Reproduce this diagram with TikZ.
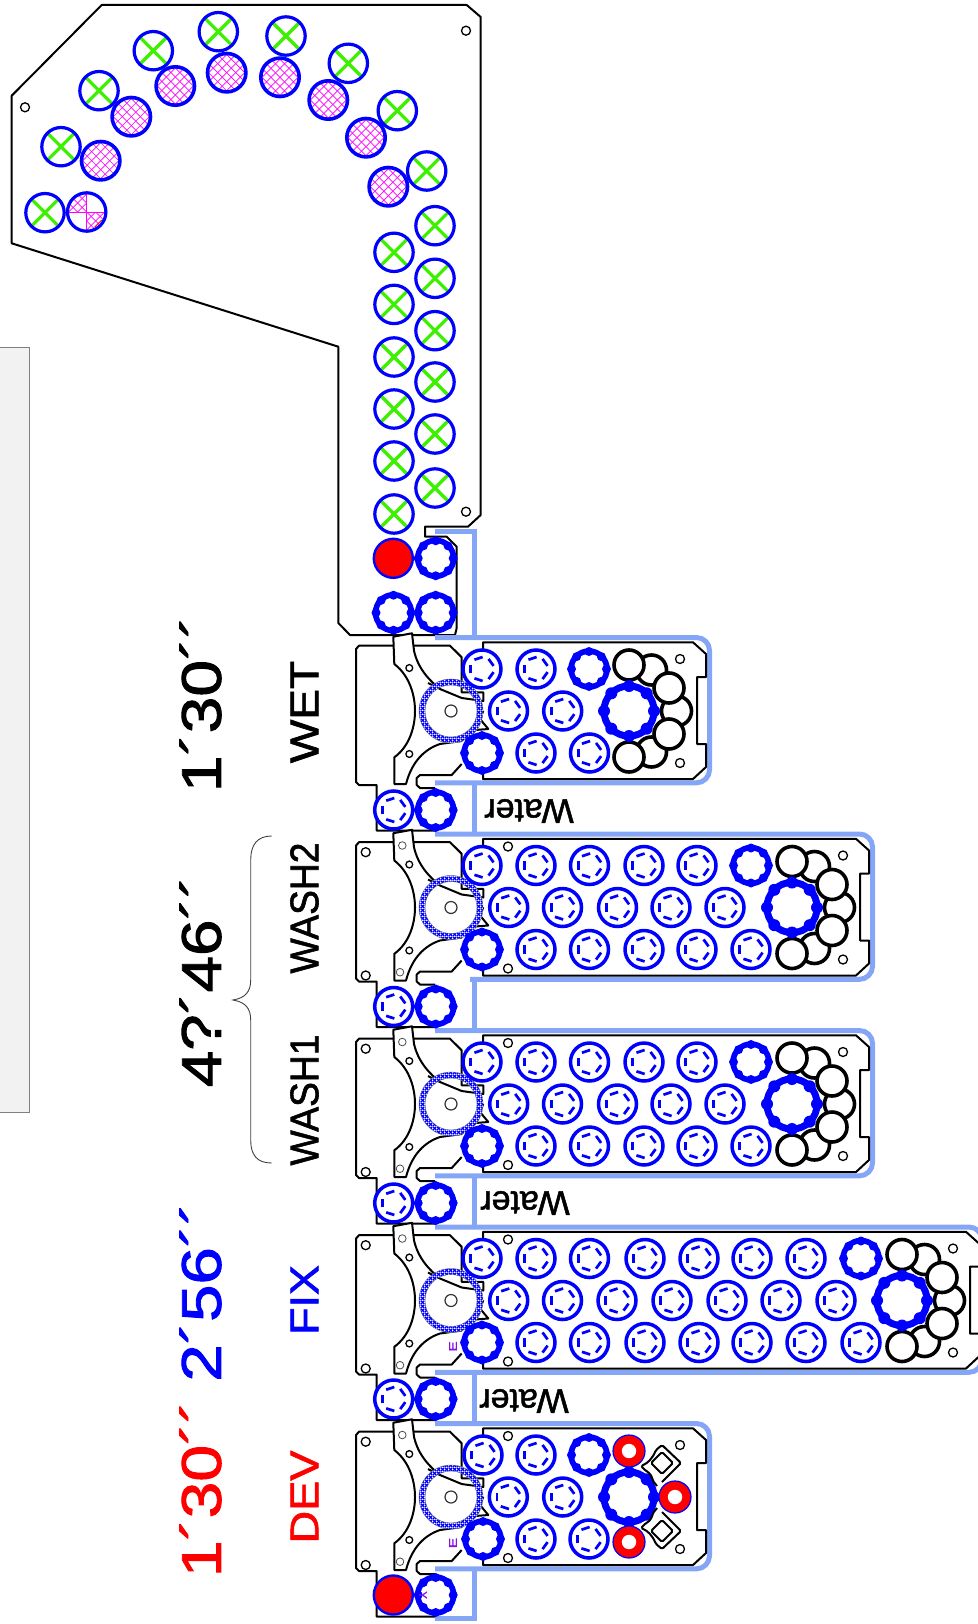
\documentclass[tikz,border=0pt]{standalone}
\usepackage{fontspec}
\setmainfont{Liberation Sans}
\newfontfamily\heavyfont[FakeBold=1.5]{Liberation Sans}
\usepackage{tikz}
\usetikzlibrary{patterns}
\definecolor{trackblue}{HTML}{85A6F7}
\definecolor{xgreen}{HTML}{3CF000}
\definecolor{markpurple}{HTML}{8A10E0}
\definecolor{sidegray}{HTML}{F2F2F2}
\definecolor{hatchpink}{HTML}{FF00FF}

\pgfdeclarepatternformonly{ringhatch}{\pgfpointorigin}{\pgfqpoint{3.6pt}{3.6pt}}{\pgfqpoint{3.6pt}{3.6pt}}{
	\pgfsetlinewidth{1.25pt}
	\pgfpathmoveto{\pgfqpoint{-0.1pt}{-0.1pt}}
	\pgfpathlineto{\pgfqpoint{3.7pt}{3.7pt}}
	\pgfpathmoveto{\pgfqpoint{-0.1pt}{3.7pt}}
	\pgfpathlineto{\pgfqpoint{3.7pt}{-0.1pt}}
	\pgfusepath{stroke}
}

\tikzset{
	boardline/.style={draw=black, line width=2pt, line join=round},
	trackline/.style={draw=trackblue, line width=5pt},
	smallhole/.style={draw=black, fill=white, line width=1.3pt},
	greyhole/.style={draw=black!70, fill=white, line width=0.8pt},
	stagelabel/.style={rotate=90, font=\heavyfont\fontsize{40}{42}\selectfont},
	timelabel/.style={rotate=90, font=\heavyfont\fontsize{56}{58}\selectfont},
	waterlabel/.style={rotate=180, font=\heavyfont\fontsize{34}{36}\selectfont},
	pics/gearwheel/.style={code={
		\fill[blue] (0,0) circle (20.8);
		\fill[white] (0,0) circle (15);
		\foreach \a in {0,45,...,315} \fill[blue] (\a:17.5) circle (4.5);
	}},
	pics/biggear/.style={code={
		\fill[blue] (0,0) circle (28.6);
		\fill[white] (0,0) circle (21.5);
		\foreach \a in {0,45,...,315} \fill[blue] (\a:25) circle (6);
	}},
	pics/dashwheel/.style={code={
		\draw[blue, fill=white, line width=3.5pt] (0,0) circle (19);
		\foreach \a in {36,108,180,252,324} \draw[blue, line width=2.7pt] (\a-21:12) -- (\a+21:12);
	}},
	pics/crosswheel/.style={code={
		\fill[white] (0,0) circle (19);
		\draw[xgreen, line width=3.2pt] (45:19) -- (225:19);
		\draw[xgreen, line width=3.2pt] (135:19) -- (315:19);
		\draw[blue, line width=3.2pt] (0,0) circle (19.2);
	}},
	pics/hatchwheel/.style={code={
		\begin{scope}
			\clip (0,0) circle (19);
			\fill[white] (0,0) circle (19);
			\foreach \d in {-36,-27,...,36} {
				\draw[hatchpink, line width=0.7pt] (\d-20,-20) -- (\d+20,20);
				\draw[hatchpink, line width=0.7pt] (\d-20,20) -- (\d+20,-20);
			}
		\end{scope}
		\draw[blue, line width=3.6pt] (0,0) circle (19.2);
	}},
	pics/halfwheel/.style={code={
		\fill[white] (0,0) circle (19);
		\begin{scope}
			\clip (-19,0) rectangle (0,-19) (0,0) rectangle (19,19);
			\clip (0,0) circle (19);
			\foreach \d in {-36,-27,...,36} {
				\draw[hatchpink, line width=0.7pt] (\d-20,-20) -- (\d+20,20);
				\draw[hatchpink, line width=0.7pt] (\d-20,20) -- (\d+20,-20);
			}
		\end{scope}
		\draw[hatchpink, line width=0.8pt] (-19,0) -- (19,0);
		\draw[hatchpink, line width=0.8pt] (0,-19) -- (0,19);
		\draw[blue, line width=3.2pt] (0,0) circle (19.2);
		\draw[red, line width=0.8pt] (8,15) -- (15,8);
	}},
	pics/redwheel/.style={code={
		\draw[blue, fill=red, line width=2.4pt] (0,0) circle (19.5);
	}},
	pics/redring/.style={code={
		\draw[blue, fill=red, line width=1.2pt] (0,0) circle (16);
		\fill[white] (0,0) circle (7.2);
	}},
	pics/tailwheel/.style={code={
		\draw[black, fill=white, line width=3.6pt] (0,0) circle (15);
	}},
}

% Head with ring and crossover arm, drawn around its ring centre
\newcommand{\headunit}[1]{
	\begin{scope}[shift={(0,#1)}]
		\draw[boardline] (461.7,-20) -- (461.7,-53.7) -- (450,-65.3) -- (359,-65.3) -- (356,-62) -- (356,71) -- (359,74) -- (376.7,74) -- (376.7,119.5) -- (435,119.5);
		\draw[boardline] (461.7,53) -- (451.7,64) -- (420,64) -- (416.7,67) -- (416.7,74) -- (420,77) -- (435,77);
		\draw[boardline, fill=white] (393.3,-74.3) -- (412,-77.7) -- (414,-60.3) .. controls (418,-42) and (430,-30) .. (440,-22) -- (461.7,-13) -- (461.7,30) -- (440,33) .. controls (425,38) and (412,50) .. (406,73) -- (394.3,73) -- (394.3,46.3) .. controls (410,35) and (415,15) .. (415,0) .. controls (415,-15) and (410,-35) .. (394.3,-47) -- cycle;
		\fill[white] (451,0) circle (28);
		\draw[boardline] (428,-28) -- (440,-22) -- (461.7,-13) -- (483.3,-10) -- (483.3,-18.7) -- (461.7,-18.7) -- (461.7,-28);
		\draw[boardline] (483.3,-0.3) -- (480,8) -- (488.3,18) -- (475,19);
		\fill[white, even odd rule] (451,0) circle (32) (451,0) circle (26);
		\draw[draw=black!60, pattern=ringhatch, pattern color=blue, even odd rule, line width=0.4pt] (451,0) circle (32) (451,0) circle (26);
		\draw[draw=black!80, fill=white, line width=1.2pt] (451,0) circle (6);
		\draw[smallhole] (409.3,-43) circle (3.4);
		\draw[smallhole] (409.3,43) circle (3.4);
	\end{scope}
}
% Holes that all the heads have but the last one
\newcommand{\headholes}[1]{
	\begin{scope}[shift={(0,#1)}]
		\draw[smallhole] (365.7,-55.3) circle (4.5);
		\draw[smallhole] (365.7,68) circle (4.5);
		\draw[greyhole] (402.3,-62) circle (3.8);
		\draw[greyhole] (400,64.7) circle (3.8);
	\end{scope}
}
% Rack plate: centre height, right edge
\newcommand{\rackboard}[2]{
	\begin{scope}[shift={(0,#1)}]
		\draw[boardline] (483,-62) -- (483,-68.7) -- (#2-13,-68.7) -- (#2,-57) -- (#2,-34) -- (#2-9,-34) -- (#2-9,33) -- (#2,33) -- (#2,56) -- (#2-13,68) -- (483,68) -- (483,62);
		\draw[smallhole] (#2-26,-52) circle (4.5);
		\draw[smallhole] (#2-26,52) circle (4.5);
	\end{scope}
}
% Rubber rollers round the big gear
\newcommand{\tailset}[2]{
	\begin{scope}[shift={(#1,#2)}]
		\pic at (22.5,-41) {tailwheel};
		\pic at (47.5,0) {tailwheel};
		\pic at (22.5,41) {tailwheel};
		\pic at (40,-23) {tailwheel};
		\pic at (40,23) {tailwheel};
		\pic at (0,-46) {tailwheel};
		\pic at (0,46) {tailwheel};
		\pic at (0,0) {biggear};
	\end{scope}
}

\begin{document}
\begin{tikzpicture}[x=1pt, y=-1pt]
	% Side panel
	\draw[draw=black!50, fill=sidegray, line width=0.6pt] (-2,347.3) rectangle (29.3,1112);
	
	% Stage names and times
	\node[stagelabel, text=red] (devname) at (304.5,1497) {\scalebox{1.13}[1]{DEV}};
	\node[stagelabel, text=blue] (fixname) at (304.5,1300) {\scalebox{1.12}[1]{FIX}};
	\node[stagelabel] (washonename) at (304.5,1100) {\scalebox{.93}[1]{WASH1}};
	\node[stagelabel] (washtwoname) at (304.5,908) {\scalebox{.93}[1]{WASH2}};
	\node[stagelabel] (wetname) at (304.5,712) {\scalebox{1.15}[1]{WET}};
	\node[timelabel, text=red] (devtime) at (200.5,1489) {\scalebox{1.18}[1]{1´30´´}};
	\node[timelabel, text=blue] (fixtime) at (200.5,1292) {\scalebox{1.2}[1]{2´56´´}};
	\node[timelabel] (washtime) at (200.5,981.5) {\scalebox{1.17}[1]{4?´46´´}};
	\node[timelabel] (wettime) at (200.5,704) {\scalebox{1.18}[1]{1´30´´}};
	\node[waterlabel] (waterone) at (529,811) {Water};
	\node[waterlabel] (watertwo) at (525,1203) {Water};
	\node[waterlabel] (waterthree) at (524,1401) {Water};
	
	% Brace
	\draw[draw=black!75, line width=0.9pt] (271.7,836) .. controls (257,836) and (250.7,845) .. (250.7,860) -- (250.7,980) .. controls (250.7,992) and (245,998) .. (233,1000) .. controls (245,1002) and (250.7,1008) .. (250.7,1020) -- (250.7,1140) .. controls (250.7,1155) and (257,1163) .. (271.7,1163);
	
	% Dryer plate
	\draw[boardline] (350,635) -- (338.3,623) -- (338.3,346.7) -- (11.7,243.3) -- (11.7,95.7) -- (101.7,5) -- (466.7,5) -- (480.7,17) -- (480.7,515) -- (468,526.7) -- (425,526.7) -- (425,536.7) -- (446.7,536.7) -- (456.7,546.7) -- (456.7,628) -- (455,635) -- cycle;
	\draw[smallhole] (466,30.7) circle (4.5);
	\draw[smallhole] (25,107.3) circle (4.5);
	\draw[smallhole] (466,511.7) circle (4.5);
	
	% Track
	\draw[trackline] (435,531.7) -- (474,531.7) -- (474,638);
	\foreach \ya/\yb in {782/834, 979/1030, 1175/1227, 1372/1423} {\draw[trackline] (474,\ya) -- (474,\yb);}
	\draw[trackline] (435,1618) -- (474,1618) -- (474,1568);
	\foreach \yc/\xr/\xe in {711/709.5/435, 907.5/872.5/470, 1104/872.5/435, 1300.5/982/435, 1497/709.5/435} {
		\draw[trackline, rounded corners=13pt] (435,\yc-73.5) -- (\xr,\yc-73.5) -- (\xr,\yc+71.8) -- (\xe,\yc+71.8);
	}
	
	% Heads
	\foreach \yc in {711, 907.5, 1104, 1300.5, 1497} {\headunit{\yc}}
	\foreach \yc in {907.5, 1104, 1300.5, 1497} {\headholes{\yc}}
	
	% Rack plates
	\rackboard{711}{706}
	\rackboard{907.5}{869}
	\rackboard{1104}{869}
	\rackboard{1300.5}{979}
	\rackboard{1497}{706}
	\foreach \yc in {907.5, 1104, 1300.5, 1497} {
		\draw[smallhole] (508,\yc-61) circle (4.5);
		\draw[smallhole] (508,\yc+61) circle (4.5);
	}
	
	% Fixed rollers of the dryer
	\foreach \xa/\ya in {45/212.7, 61/146.7, 99/90.7, 153.3/50.7, 218.3/31.7, 286/36, 348.3/63.3, 397.3/110.7, 426.7/171, 435/225.7, 435/278.3, 435/330.7, 435/382, 435/434, 435/488, 394/252.3, 394/304.4, 394/357, 394/409, 394/461, 394/514} {
		\pic at (\xa,\ya) {crosswheel};
	}
	\foreach \xa/\ya in {100.7/160.7, 131.3/116.7, 175.3/86, 226.7/72.7, 280/77.3, 328.3/100, 366/137.7, 388.3/186.7} {
		\pic at (\xa,\ya) {hatchwheel};
	}
	\pic at (86.7,212) {halfwheel};
	\pic at (393.3,558.3) {redwheel};
	\pic at (393.3,1595) {redwheel};
	\foreach \ya in {558.3, 612.7, 810, 1006.5, 1203, 1399, 1595} {\pic at (435.7,\ya) {gearwheel};}
	\pic at (393.5,612.7) {gearwheel};
	\foreach \ya in {810, 1006.5, 1203, 1399} {\pic at (393.7,\ya) {dashwheel};}
	
	% WET
	\begin{scope}[shift={(0,711)}]
		\tailset{629}{0}
		\foreach \xa in {482,536} {\pic at (\xa,-42) {dashwheel};}
		\pic at (589,-42) {gearwheel};
		\foreach \xa in {508.5,562.7} {\pic at (\xa,0) {dashwheel};}
		\pic at (482,42) {gearwheel};
		\foreach \xa in {536,589.5} {\pic at (\xa,42) {dashwheel};}
	\end{scope}
	
	% WASH2 and WASH1
	\foreach \yc in {907.5, 1104} {
		\begin{scope}[shift={(0,\yc)}]
			\tailset{792}{0}
			\foreach \xa in {482,536,589.5,644,697} {\pic at (\xa,-42) {dashwheel};}
			\pic at (751,-42) {gearwheel};
			\foreach \xa in {508.7,562.5,617.5,671,725} {\pic at (\xa,0) {dashwheel};}
			\pic at (482,42) {gearwheel};
			\foreach \xa in {536,589.5,644,697,751} {\pic at (\xa,42) {dashwheel};}
		\end{scope}
	}
	
	% FIX
	\begin{scope}[shift={(0,1300.5)}]
		\tailset{902}{0}
		\foreach \xa in {482,536,589.5,645,699,752,806} {\pic at (\xa,-42) {dashwheel};}
		\pic at (861,-42) {gearwheel};
		\foreach \xa in {508.7,562.5,617,672,727,781,836} {\pic at (\xa,0) {dashwheel};}
		\pic at (482,42) {gearwheel};
		\foreach \xa in {536,589.5,645,699,752,806,861} {\pic at (\xa,42) {dashwheel};}
		\node[text=markpurple, rotate=90, font=\heavyfont\fontsize{11}{11}\selectfont, inner sep=0pt] (fixmark) at (453,46) {\scalebox{1.4}[1]{E}};
		\draw[black, line width=1.6pt] (979,-34) -- (970,-34) -- (970,33) -- (979,33);
	\end{scope}
	
	% DEV
	\begin{scope}[shift={(0,1497)}]
		\pic at (629,0) {biggear};
		\foreach \xa in {483,536} {\pic at (\xa,-42) {dashwheel};}
		\pic at (589,-42) {gearwheel};
		\foreach \xa in {508.3,562.7} {\pic at (\xa,0) {dashwheel};}
		\pic at (483,42) {gearwheel};
		\foreach \xa in {536,589} {\pic at (\xa,42) {dashwheel};}
		\foreach \xa/\ya in {629/-46, 629/45, 675/0} {\pic at (\xa,\ya) {redring};}
		% Diamonds
		\foreach \s in {-1,1} {
			\draw[boardline, rounded corners=1.5pt] (662,\s*15) -- (681,\s*34) -- (662,\s*52) -- (656,\s*47) .. controls (652,\s*38) and (648,\s*34) .. (641,\s*31) -- (646,\s*26) .. controls (650,\s*24) and (652,\s*20) .. (653,\s*16) -- (657,\s*11);
			\draw[boardline, rounded corners=1.5pt] (662,\s*23) -- (673,\s*34) -- (662,\s*45) -- (651,\s*34) -- cycle;
		}
		\node[text=markpurple, rotate=90, font=\heavyfont\fontsize{11}{11}\selectfont, inner sep=0pt] (devmark) at (453,46) {\scalebox{1.4}[1]{E}};
		\node[text=markpurple, rotate=-90, font=\heavyfont\fontsize{11}{11}\selectfont, inner sep=0pt] (rollermark) at (423,98) {Y};
	\end{scope}
	
	% Page size
	\pgfresetboundingbox
	\useasboundingbox (0,0) rectangle (977,1624);
\end{tikzpicture}
\end{document}
